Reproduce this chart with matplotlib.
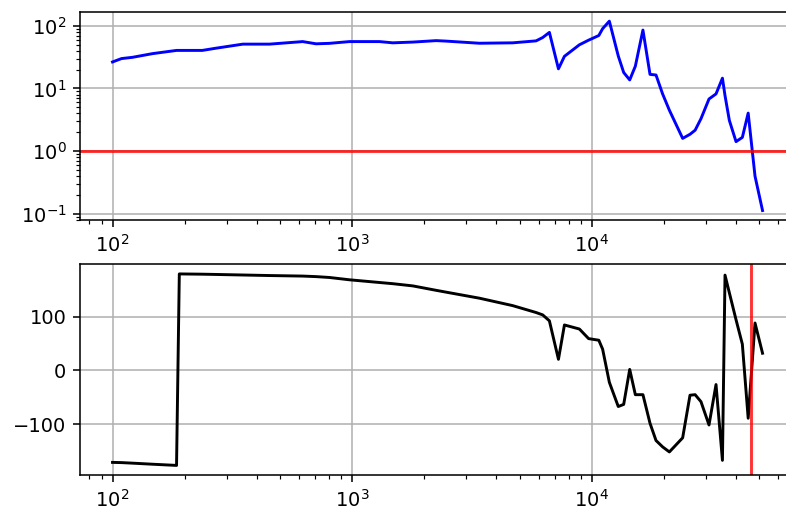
import numpy as np
import matplotlib
matplotlib.use("Agg")
import matplotlib.pyplot as plt

# Frequency response (Hz, gain, phase in degrees)
freq = [100, 109, 121, 147, 185, 190, 237, 271, 350, 452, 622, 707, 804, 975,
        1300, 1477, 1791, 2240, 2466, 3396, 4677, 5857, 6240, 6655, 7260, 7690,
        8880, 9700, 10700, 11100, 11840, 12900, 13590, 14400, 15200, 16350,
        17500, 18540, 19750, 21080, 23950, 25700, 27000, 28560, 30850, 33000,
        35100, 35980, 37510, 40000, 42500, 44950, 48000, 51600]
mag = [26.5, 30, 31.4, 36, 40.5, 40.5, 40.5, 44, 51, 51, 56, 51.6, 52.5, 56,
       56, 53.5, 55, 58, 57, 52.7, 53.5, 57.5, 65, 78.5, 20.6, 32.6,
       49.8, 59, 70, 90, 118.6, 33, 18, 13.7, 22.7, 85.5,
       16.8, 16.4, 8.2, 4.5, 1.6, 1.86, 2.16, 3.3, 6.8, 8.2,
       14.6, 7.7, 3.1, 1.42, 1.66, 4.05, 0.40, 0.113]
phase = [-170.6, -171, -172, -174, -176.2, 179, 178.5, 178, 177, 176, 175,
         174, 172.4, 168.1, 163.1, 160.9, 156.8, 148.6, 145.2, 134, 120.2,
         107.4, 103, 92, 20.6, 84.3, 76.8, 59, 56, 39.4, -22, -67, -63, 1.9,
         -45, -45, -98, -130, -141.8, -151.2, -125, -46, -45, -58,
         -101.2, -26.2, -166.8, 176.8, 144, 94, 48.7, -88.7, 88, 31.9]

# gain crossover frequency (|G| = 1)
f_cross = 46200

fig = plt.figure(figsize=(786 / 140, 515 / 140), dpi=140)
ax1 = fig.add_axes([0.1018, 0.5728, 0.9097, 0.4045])
ax2 = fig.add_axes([0.1018, 0.0777, 0.9097, 0.409])

ax1.loglog(freq, mag, "b")
ax1.axhline(1, color="r", alpha=0.8)
ax1.grid(True)

ax2.semilogx(freq, phase, "k")
ax2.axvline(f_cross, color="r", alpha=0.8)
ax2.grid(True)

plt.savefig("out.png", dpi=140)
